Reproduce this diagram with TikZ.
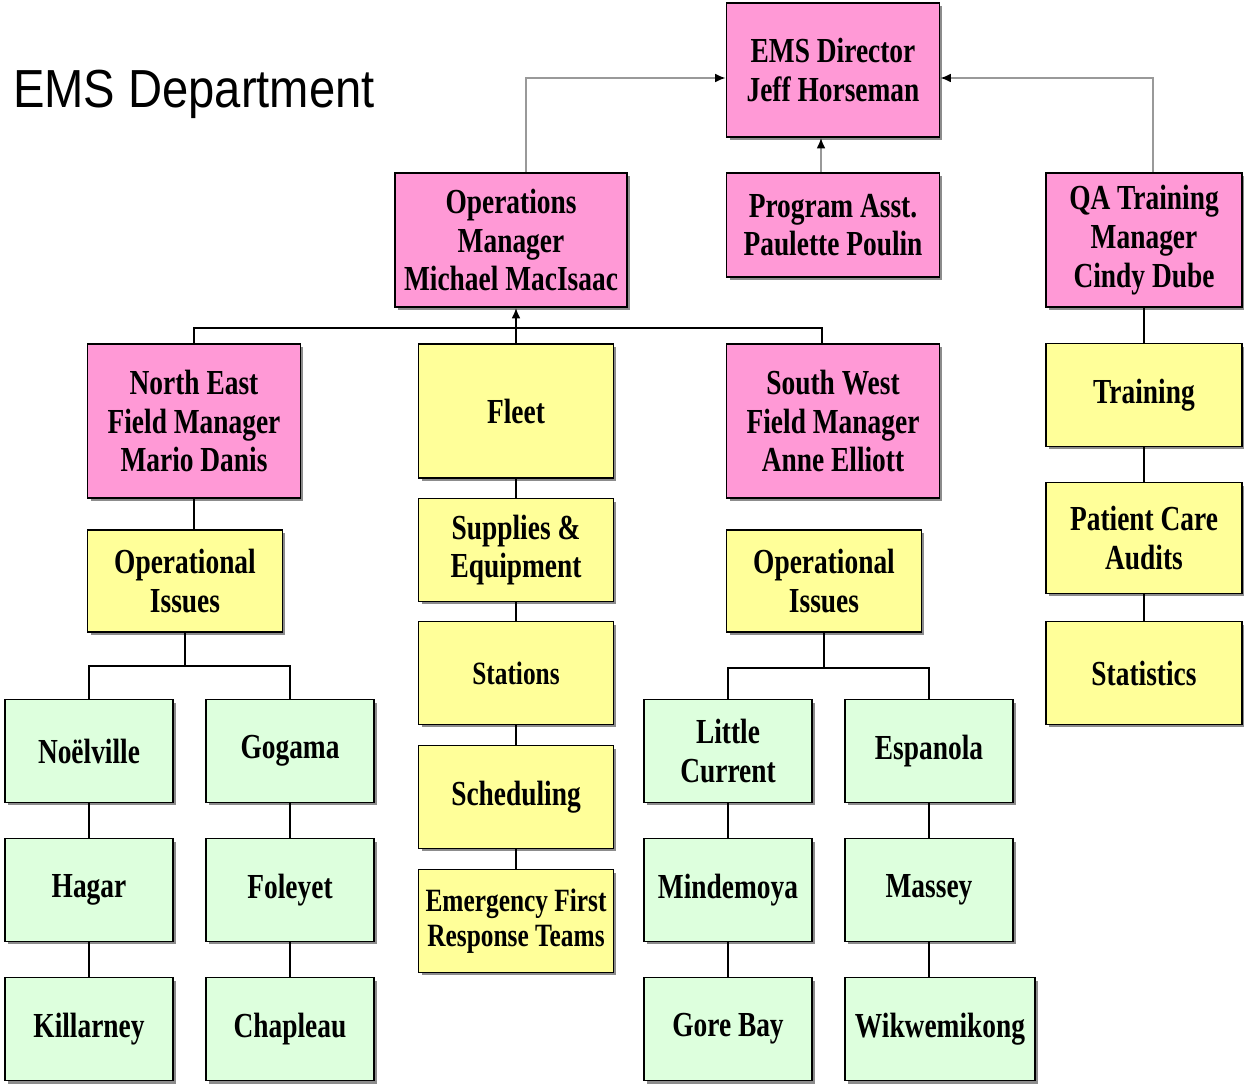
\documentclass[tikz,border=0pt]{standalone}
\usepackage{fontspec}
\setmainfont{Liberation Serif}[FakeStretch=0.78]
\newfontfamily\titlefont{Liberation Sans}[FakeStretch=0.88]
\usepackage{tikz}
\usetikzlibrary{arrows.meta,shadows}
\definecolor{mgrpink}{RGB}{255,153,214}
\definecolor{unityellow}{RGB}{255,255,153}
\definecolor{basegreen}{RGB}{221,255,221}
\begin{document}
\begin{tikzpicture}[x=0.02cm,y=-0.02cm,
  box/.style={draw=black,line width=1pt,align=center,inner sep=0pt,
    font=\bfseries\fontsize{20}{22}\selectfont,
    drop shadow={shadow xshift=0.06cm,shadow yshift=-0.06cm,fill=black!45,opacity=1}},
  pinkbox/.style={box,fill=mgrpink},
  yellowbox/.style={box,fill=unityellow,minimum width=3.9cm,minimum height=2.06cm},
  greenbox/.style={box,fill=basegreen,minimum width=3.36cm,minimum height=2.06cm},
  link/.style={line width=0.9pt},
  uplink/.style={line width=0.9pt,draw=black!40,-{Latex[black,length=6pt,width=5pt]}}]
\useasboundingbox (0,0) rectangle (1244,1088);
\node[anchor=base west,font=\titlefont\fontsize{30.5}{32}\selectfont] (title) at (7,108) {EMS Department};
% managers
\node[pinkbox,minimum width=4.26cm,minimum height=2.68cm] (dir) at (833,70) {EMS Director\\Jeff Horseman};
\node[pinkbox,minimum width=4.26cm,minimum height=2.08cm] (asst) at (833,225) {Program Asst.\\Paulette Poulin};
\node[pinkbox,minimum width=4.64cm,minimum height=2.68cm] (ops) at (511,240) {Operations\\Manager\\Michael MacIsaac};
\node[pinkbox,minimum width=3.92cm,minimum height=2.68cm] (qa) at (1144,240) {QA Training\\Manager\\Cindy Dube};
\node[pinkbox,minimum width=4.26cm,minimum height=3.08cm] (ne) at (194,421) {North East\\Field Manager\\Mario Danis};
\node[pinkbox,minimum width=4.26cm,minimum height=3.08cm] (sw) at (833,421) {South West\\Field Manager\\Anne Elliott};
% units
\node[yellowbox,minimum height=2.68cm] (fleet) at (516,411) {Fleet};
\node[yellowbox] (supply) at (516,550) {Supplies \&\\Equipment};
\node[yellowbox,font=\bfseries\fontsize{18.5}{21}\selectfont] (stations) at (516,673) {Stations};
\node[yellowbox] (sched) at (516,797) {Scheduling};
\node[yellowbox,font=\bfseries\fontsize{18.5}{20}\selectfont] (efrt) at (516,921) {Emergency First\\Response Teams};
\node[yellowbox,minimum height=2.04cm] (opne) at (185,581) {Operational\\Issues};
\node[yellowbox,minimum height=2.04cm] (opsw) at (824,581) {Operational\\Issues};
\node[yellowbox,minimum width=3.92cm] (train) at (1144,395) {Training};
\node[yellowbox,minimum width=3.92cm,minimum height=2.22cm] (audit) at (1144,538) {Patient Care\\Audits};
\node[yellowbox,minimum width=3.92cm] (stats) at (1144,673) {Statistics};
% bases
\node[greenbox] (noel) at (89,751) {Noëlville};
\node[greenbox] (gog) at (290,751) {Gogama};
\node[greenbox] (hagar) at (89,890) {Hagar};
\node[greenbox] (foley) at (290,890) {Foleyet};
\node[greenbox] (kill) at (89,1029) {Killarney};
\node[greenbox] (chap) at (290,1029) {Chapleau};
\node[greenbox] (lc) at (728,751) {Little\\Current};
\node[greenbox] (esp) at (929,751) {Espanola};
\node[greenbox] (mind) at (728,890) {Mindemoya};
\node[greenbox] (mass) at (929,890) {Massey};
\node[greenbox] (gore) at (728,1029) {Gore Bay};
\node[greenbox,minimum width=3.8cm] (wik) at (940,1029) {Wikwemikong};
% reporting lines
\draw[uplink] ([xshift=0.3cm]ops.north) |- ([yshift=-0.16cm]dir.west);
\draw[uplink] ([xshift=0.18cm]qa.north) |- ([yshift=-0.16cm]dir.east);
\draw[uplink] ([xshift=-0.24cm]asst.north) -- ([xshift=-0.24cm]dir.south);
\coordinate (opsbus) at (511,328);
\draw[link] (ne.north) |- (opsbus) -| ([xshift=-0.22cm]sw.north);
\draw[link,-{Latex[length=6pt,width=5pt]}] (fleet.north) -- (fleet.north |- ops.south);
\draw[link] (ne.south) -- (ne.south |- opne.north);
\coordinate (nebus) at (185,666);
\draw[link] (opne.south) -- (nebus);
\draw[link] (noel.north) |- (nebus) -| (gog.north);
\coordinate (swbus) at (824,668);
\draw[line width=1.6pt] (opsw.south) -- (swbus);
\draw[link] (lc.north) |- (swbus) -| (esp.north);
\draw[link] (fleet) -- (supply) -- (stations) -- (sched) -- (efrt);
\draw[link] (qa) -- (train) -- (audit) -- (stats);
\draw[link] (noel) -- (hagar) -- (kill);
\draw[link] (gog) -- (foley) -- (chap);
\draw[link] (lc) -- (mind) -- (gore);
\draw[link] (esp) -- (mass);
\draw[link] (mass.south) -- (mass.south |- wik.north);
\end{tikzpicture}
\end{document}
